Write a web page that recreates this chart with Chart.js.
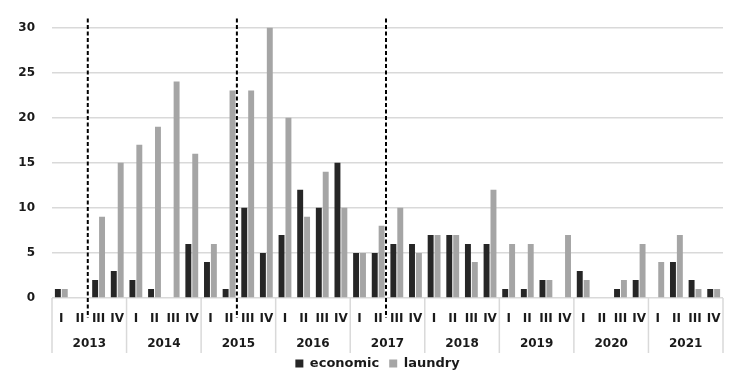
<!DOCTYPE html>
<html>
<head>
<meta charset="utf-8">
<script src="https://cdn.jsdelivr.net/npm/chart.js@4/dist/chart.umd.min.js"></script>
<style>
html,body{margin:0;padding:0;background:#fff;}
#wrap{width:743px;height:383px;position:relative;}
</style>
</head>
<body>
<div id="wrap"><canvas id="c" width="743" height="383"></canvas></div>
<script>
const years = ['2013','2014','2015','2016','2017','2018','2019','2020','2021'];
const quarters = ['I','II','III','IV'];
const economic = [1,0,2,3, 2,1,0,6, 4,1,10,5, 7,12,10,15, 5,5,6,6, 7,7,6,6, 1,1,2,0, 3,0,1,2, 0,4,2,1];
const laundry  = [1,0,9,15, 17,19,24,16, 6,23,23,30, 20,9,14,10, 5,8,10,5, 7,7,4,12, 6,6,2,7, 2,0,2,6, 4,7,1,1];
const yTicks = [0,5,10,15,20,25,30];
// dashed markers: index of the quarter before which the dashed line is drawn
const dashedBefore = [2, 10, 18];

const labels = [];
years.forEach(y => quarters.forEach(q => labels.push(q)));

const FONT = "'DejaVu Sans', sans-serif";
const TXT = '#1a1a1a';

const groupPlugin = {
  id: 'groups',
  afterLayout(chart) {
    if (chart.legend) { chart.legend.left += 16; chart.legend.right += 16; }
  },
  afterDraw(chart) {
    const ctx = chart.ctx;
    const x = chart.scales.x;
    const area = chart.chartArea;
    const half = (x.getPixelForValue(1) - x.getPixelForValue(0)) / 2;
    ctx.save();
    // year separators
    ctx.strokeStyle = '#d9d9d9';
    ctx.lineWidth = 1.5;
    for (let i = 0; i <= years.length; i++) {
      const idx = i * 4;
      const px = idx < labels.length ? x.getPixelForValue(idx) - half : x.getPixelForValue(labels.length - 1) + half;
      ctx.beginPath();
      ctx.moveTo(px, area.bottom);
      ctx.lineTo(px, area.bottom + 55);
      ctx.stroke();
    }
    // year labels
    ctx.fillStyle = TXT;
    ctx.font = 'bold 12px ' + FONT;
    ctx.textAlign = 'center';
    ctx.textBaseline = 'middle';
    years.forEach((y, i) => {
      const a = x.getPixelForValue(i * 4) - half;
      const b = x.getPixelForValue(i * 4 + 3) + half;
      ctx.fillText(y, (a + b) / 2, area.bottom + 46);
    });
    // dashed markers
    ctx.strokeStyle = '#000';
    ctx.lineWidth = 2;
    ctx.setLineDash([4, 2.5]);
    dashedBefore.forEach(idx => {
      const px = x.getPixelForValue(idx) - half - 1.5;
      ctx.beginPath();
      ctx.moveTo(px, area.top - 9);
      ctx.lineTo(px, area.bottom + 20);
      ctx.stroke();
    });
    ctx.restore();
  }
};

new Chart(document.getElementById('c'), {
  type: 'bar',
  data: {
    labels: labels,
    datasets: [
      { label: 'economic', data: economic, backgroundColor: '#262626', categoryPercentage: 0.74, barPercentage: 0.86 },
      { label: 'laundry', data: laundry, backgroundColor: '#a5a5a5', categoryPercentage: 0.74, barPercentage: 0.86 }
    ]
  },
  options: {
    responsive: false,
    animation: false,
    devicePixelRatio: 1,
    layout: { padding: { top: 27.5, right: 20, left: 0, bottom: 3 } },
    plugins: {
      tooltip: { enabled: false },
      legend: {
        position: 'bottom',
        labels: {
          boxWidth: 8, boxHeight: 8, padding: 10,
          font: { family: FONT, size: 13, weight: 'bold' }, color: TXT
        }
      }
    },
    scales: {
      x: {
        grid: { display: false },
        border: { display: false },
        ticks: {
          autoSkip: false, maxRotation: 0, padding: 6,
          font: { family: FONT, size: 12, weight: 'bold' }, color: TXT
        },
        afterFit(s) { s.height = 49; }
      },
      y: {
        min: 0, max: 30,
        afterBuildTicks(s) { s.ticks = yTicks.map(v => ({ value: v })); },
        afterFit(s) { s.width = 52; },
        grid: { color: '#d9d9d9', lineWidth: 1.5, drawTicks: false },
        border: { display: false },
        ticks: {
          padding: 17,
          font: { family: FONT, size: 12, weight: 'bold' }, color: TXT
        }
      }
    }
  },
  plugins: [groupPlugin]
});
</script>
</body>
</html>
